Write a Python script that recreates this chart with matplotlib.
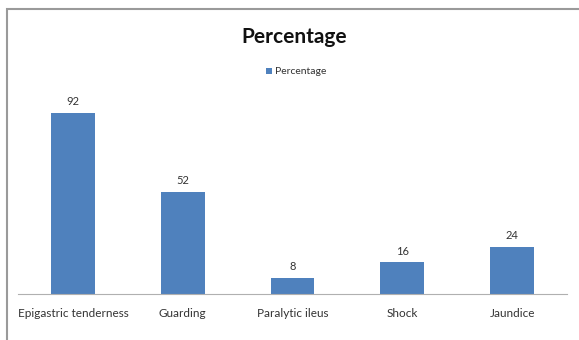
import matplotlib.pyplot as plt
from matplotlib.patches import Rectangle

plt.rcParams['font.family'] = ['Lato', 'DejaVu Sans']

categories = ['Epigastric tenderness', 'Guarding', 'Paralytic ileus', 'Shock', 'Jaundice']
percentage = [92, 52, 8, 16, 24]

W, H = 579, 340
fig = plt.figure(figsize=(W / 100, H / 100), dpi=100)

# outer chart frame
fig.patches.append(Rectangle((7 / W, -0.05), 1.1, (H - 9) / H + 0.05,
                             transform=fig.transFigure, fill=False,
                             edgecolor='#9a9a9a', linewidth=1.5))

ax = fig.add_axes([18 / W, 46 / H, (567 - 18) / W, (294 - 97) / H])
x = range(len(categories))
bars = ax.bar(x, percentage, width=0.4, color='#4F81BD', label='Percentage')
for b, v in zip(bars, percentage):
    ax.text(b.get_x() + b.get_width() / 2, v + 3, str(v),
            ha='center', va='bottom', fontsize=8, color='#333333')

ax.set_xlim(-0.5, len(categories) - 0.5)
ax.set_ylim(0, 100)
ax.set_xticks(list(x))
ax.set_xticklabels(categories, fontsize=8.5, color='#333333')
ax.tick_params(axis='x', length=0, pad=10)
ax.set_yticks([])
for s in ['top', 'right', 'left']:
    ax.spines[s].set_visible(False)
ax.spines['bottom'].set_color('#b0b0b0')

fig.text(294 / W, 1 - 37 / H, 'Percentage', ha='center', va='center',
         fontsize=15, fontweight='bold', color='#111111')
fig.legend(loc='center', bbox_to_anchor=(296 / W, 1 - 72 / H), frameon=False,
           fontsize=7.5, handlelength=0.6, handleheight=0.6, handletextpad=0.3,
           labelcolor='#333333')

fig.savefig('out.png', dpi=100)
